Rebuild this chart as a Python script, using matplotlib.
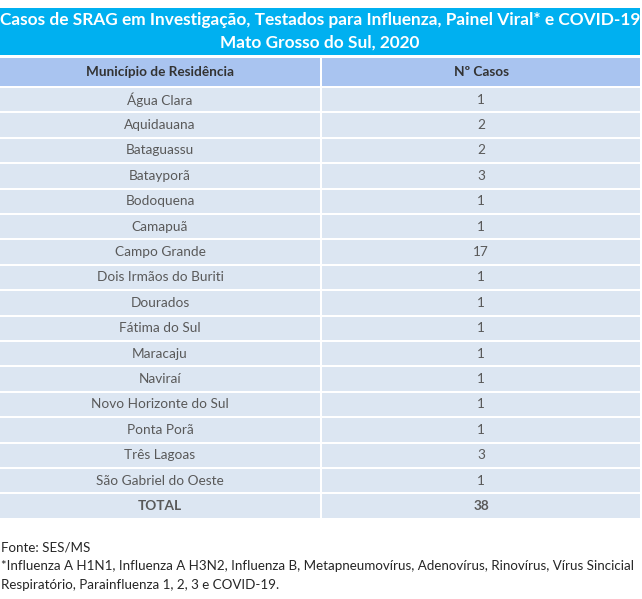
import matplotlib
matplotlib.use("Agg")
import matplotlib.pyplot as plt
from matplotlib.patches import Rectangle

title_lines = ["Casos de SRAG em Investigação, Testados para Influenza, Painel Viral* e COVID-19",
               "Mato Grosso do Sul, 2020"]
col_headers = ["Município de Residência", "Nº Casos"]
municipios = ["Água Clara", "Aquidauana", "Bataguassu", "Batayporã", "Bodoquena", "Camapuã",
              "Campo Grande", "Dois Irmãos do Buriti", "Dourados", "Fátima do Sul", "Maracaju",
              "Naviraí", "Novo Horizonte do Sul", "Ponta Porã", "Três Lagoas", "São Gabriel do Oeste"]
casos = [1, 2, 2, 3, 1, 1, 17, 1, 1, 1, 1, 1, 1, 1, 3, 1]
total_label = "TOTAL"
footer_lines = ["Fonte: SES/MS",
                "*Influenza A H1N1, Influenza A H3N2, Influenza B, Metapneumovírus, Adenovírus, Rinovírus, Vírus Sincicial",
                "Respiratório, Parainfluenza 1, 2, 3 e COVID-19."]

W, H = 642, 599
fig = plt.figure(figsize=(W / 100, H / 100), dpi=100)
ax = fig.add_axes([0, 0, 1, 1])
ax.set_xlim(0, W)
ax.set_ylim(H, 0)
ax.axis("off")

FONT = ["Lato", "DejaVu Sans"]
CYAN = "#00B0F0"
HEAD = "#A9C4F0"
BODY = "#DCE6F2"
TXT = "#595959"

left, right = 0, 640
split = 321
gap = 2

# title band
ax.add_patch(Rectangle((left, 8), right - left, 47, color=CYAN, lw=0))
ax.text(W / 2 - 1, 20, title_lines[0], ha="center", va="center", color="white",
        fontsize=12.4, fontweight="bold", family=FONT)
ax.text(W / 2 - 1, 43, title_lines[1], ha="center", va="center", color="white",
        fontsize=12.4, fontweight="bold", family=FONT)

# header
hy0, hy1 = 58, 86
ax.add_patch(Rectangle((left, hy0), split - gap / 2 - left, hy1 - hy0, color=HEAD, lw=0))
ax.add_patch(Rectangle((split + gap / 2, hy0), right - split - gap / 2, hy1 - hy0, color=HEAD, lw=0))
ax.text(160, 72, col_headers[0], ha="center", va="center", color="#333333",
        fontsize=9.8, fontweight="bold", family=FONT)
ax.text(481, 72, col_headers[1], ha="center", va="center", color="#333333",
        fontsize=9.8, fontweight="bold", family=FONT)

rows = list(zip(municipios, [str(c) for c in casos])) + [(total_label, str(sum(casos)))]
y0 = 88
rh = 25.4
for i, (name, val) in enumerate(rows):
    top = y0 + i * rh
    ax.add_patch(Rectangle((left, top), split - gap / 2 - left, rh - gap, color=BODY, lw=0))
    ax.add_patch(Rectangle((split + gap / 2, top), right - split - gap / 2, rh - gap, color=BODY, lw=0))
    cy = top + (rh - gap) / 2
    bold = name == total_label
    ax.text(160, cy, name, ha="center", va="center", color=TXT, fontsize=9.8,
            fontweight="bold" if bold else "normal", family=FONT)
    ax.text(481, cy, val, ha="center", va="center", color=TXT, fontsize=9.8,
            fontweight="bold" if bold else "normal", family=FONT)

for j, line in enumerate(footer_lines):
    ax.text(1, 548 + j * 18.5, line, ha="left", va="center", color="#262626",
            fontsize=9.6, family=FONT)

fig.savefig("out.png", dpi=100)
